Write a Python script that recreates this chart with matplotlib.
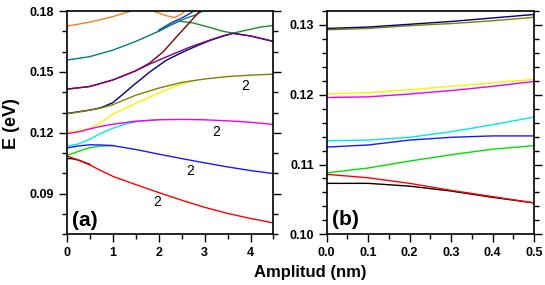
import matplotlib
matplotlib.use("Agg")
import matplotlib.pyplot as plt
from matplotlib.ticker import MultipleLocator, FormatStrFormatter

plt.rcParams['font.family'] = ['Liberation Sans', 'DejaVu Sans']

# ---------------- Panel (a) data: amplitude (nm) vs energy (eV) ----------------
xa_red = [0, 0.25, 0.5, 0.75, 1.0, 1.5, 2.0, 2.5, 3.0, 3.5, 4.0, 4.5]
ya_red = [0.1086, 0.1066, 0.1042, 0.1013, 0.0986, 0.0945, 0.0906, 0.0868, 0.0833, 0.0803, 0.0778, 0.0756]
xa_black = [0, 0.1, 0.2, 0.3, 0.4, 0.5]
ya_black = [0.1073, 0.1073, 0.1069, 0.1062, 0.1053, 0.1045]

xa_blue = [0, 0.25, 0.5, 0.75, 1.0, 1.5, 2.0, 2.5, 3.0, 3.5, 4.0, 4.5]
ya_blue = [0.1125, 0.1135, 0.1141, 0.1140, 0.1137, 0.1118, 0.1095, 0.1073, 0.1052, 0.1032, 0.1014, 0.0999]
xa_green = [0, 0.25, 0.5, 0.75, 1.0]
ya_green = [0.1088, 0.1108, 0.1127, 0.1135, 0.1137]

xa_cyan = [0, 0.25, 0.5, 0.75, 1.0, 1.3, 1.6, 2.0]
ya_cyan = [0.1134, 0.1145, 0.1168, 0.1198, 0.1222, 0.1245, 0.1258, 0.1265]
xa_magenta = [0, 0.25, 0.5, 0.75, 1.0, 1.5, 2.0, 2.5, 3.0, 3.5, 4.0, 4.5]
ya_magenta = [0.1196, 0.1204, 0.1219, 0.1232, 0.1242, 0.1257, 0.1264, 0.1266, 0.1264, 0.1259, 0.1252, 0.1241]

xa_yellow = [0, 0.25, 0.5, 0.75, 1.0, 1.25, 1.5, 1.8, 2.1, 2.4, 2.7]
ya_yellow = [0.1201, 0.1209, 0.1222, 0.1250, 0.1292, 0.1318, 0.1345, 0.1375, 0.1405, 0.1432, 0.1455]
xa_olive = [0, 0.5, 0.75, 1.0, 1.5, 2.0, 2.5, 3.0, 3.5, 4.0, 4.5]
ya_olive = [0.1293, 0.1311, 0.1322, 0.1338, 0.1385, 0.1420, 0.1448, 0.1465, 0.1477, 0.1484, 0.1489]

xa_navy = [0, 0.5, 0.75, 1.0, 1.25, 1.45, 1.81, 2.17, 2.54, 2.9, 3.12, 3.4, 3.62, 4.0, 4.5]
ya_navy = [0.1295, 0.1312, 0.1324, 0.1348, 0.1395, 0.1434, 0.1500, 0.1558, 0.1599, 0.1635, 0.1655, 0.1676, 0.1690, 0.1677, 0.1650]
xa_purple = [0, 0.5, 1.0, 1.3, 1.52, 1.8, 2.17, 2.68, 3.12, 3.4, 3.62, 4.0, 4.5]
ya_purple = [0.1415, 0.1428, 0.1460, 0.1487, 0.1508, 0.1538, 0.1574, 0.1622, 0.1657, 0.1678, 0.1690, 0.1677, 0.1650]
xa_maroon = [0, 0.5, 1.0, 1.5, 1.8, 2.1, 2.3, 2.5, 2.7, 2.9, 3.0]
ya_maroon = [0.1415, 0.1428, 0.1460, 0.1505, 0.1543, 0.1599, 0.1650, 0.1700, 0.1750, 0.1800, 0.1825]

xa_teal = [0, 0.5, 1.0, 1.5, 2.0, 2.3, 2.6, 2.8, 3.0]
ya_teal = [0.1558, 0.1575, 0.1607, 0.1650, 0.1700, 0.1735, 0.1765, 0.1780, 0.1805]
xa_dgreen = [2.0, 2.2, 2.45, 2.75, 3.1, 3.4, 3.62, 3.9, 4.2, 4.5]
ya_dgreen = [0.1700, 0.1725, 0.1750, 0.1741, 0.1720, 0.1700, 0.1691, 0.1705, 0.1720, 0.1729]
xa_ublue = [2.0, 2.3, 2.5, 2.7, 2.85]
ya_ublue = [0.1705, 0.1745, 0.1765, 0.1790, 0.1815]

xa_orange1 = [0, 0.5, 1.0, 1.4, 1.6]
ya_orange1 = [0.1725, 0.1745, 0.1772, 0.1800, 0.1815]
xa_orange2 = [1.75, 2.0, 2.2, 2.35, 2.5, 2.6]
ya_orange2 = [0.1810, 0.1790, 0.1775, 0.1768, 0.1785, 0.1810]

# ---------------- Panel (b) data ----------------
xb = [0.0, 0.1, 0.2, 0.3, 0.4, 0.5]
yb_black = [0.1073, 0.1073, 0.1069, 0.1062, 0.1053, 0.1045]
yb_red = [0.1086, 0.1081, 0.1073, 0.1063, 0.1054, 0.1045]
yb_green = [0.1088, 0.1095, 0.1105, 0.1114, 0.1122, 0.1127]
yb_blue = [0.1125, 0.1128, 0.1135, 0.1139, 0.1141, 0.1141]
yb_cyan = [0.1134, 0.1135, 0.1139, 0.1147, 0.1157, 0.1168]
yb_magenta = [0.1196, 0.1197, 0.1201, 0.1206, 0.1212, 0.1219]
yb_yellow = [0.1201, 0.1203, 0.1207, 0.1212, 0.1217, 0.1222]
yb_olive = [0.1293, 0.1295, 0.1299, 0.1302, 0.1306, 0.1311]
yb_navy = [0.1295, 0.1297, 0.1301, 0.1305, 0.1310, 0.1315]

labels_2 = [(1.96, 0.0857), (2.68, 0.1011), (3.25, 0.1203), (3.88, 0.1429)]

C = dict(red='#ff0000', black='#000000', blue='#1a1aff', green='#00e000',
         cyan='#00e8e8', magenta='#ee00ee', yellow='#f5f500', olive='#808000',
         navy='#000080', purple='#800080', maroon='#800000', teal='#008080',
         dgreen='#1f8a2a', ublue='#1c2fc0', orange='#f08020')

fig = plt.figure(figsize=(5.45, 2.85), dpi=100)
axa = fig.add_axes([66.7/545, (285-234.3)/285, 206.8/545, 223.3/285])
axb = fig.add_axes([326.7/545, (285-234.3)/285, 207.3/545, 223.3/285])

lw = 1.0
# panel (a)
axa.plot(xa_orange1, ya_orange1, color=C['orange'], lw=lw)
axa.plot(xa_orange2, ya_orange2, color=C['orange'], lw=lw)
axa.plot(xa_ublue, ya_ublue, color=C['ublue'], lw=lw)
axa.plot(xa_dgreen, ya_dgreen, color=C['dgreen'], lw=lw)
axa.plot(xa_teal, ya_teal, color=C['teal'], lw=lw)
axa.plot(xa_maroon, ya_maroon, color=C['maroon'], lw=lw)
axa.plot(xa_navy, ya_navy, color=C['navy'], lw=lw)
axa.plot(xa_purple, ya_purple, color=C['purple'], lw=lw)
axa.plot(xa_yellow, ya_yellow, color=C['yellow'], lw=lw)
axa.plot(xa_olive, ya_olive, color=C['olive'], lw=lw)
axa.plot(xa_cyan, ya_cyan, color=C['cyan'], lw=lw)
axa.plot(xa_magenta, ya_magenta, color=C['magenta'], lw=lw)
axa.plot(xa_green, ya_green, color=C['green'], lw=lw)
axa.plot(xa_blue, ya_blue, color=C['blue'], lw=lw)
axa.plot(xa_black, ya_black, color=C['black'], lw=lw)
axa.plot(xa_red, ya_red, color=C['red'], lw=lw)
for (x, y) in labels_2:
    axa.text(x, y, '2', fontsize=10, ha='center', va='center')
axa.text(0.086, 0.064, '(a)', transform=axa.transAxes, fontsize=15,
         fontweight='bold', ha='center', va='center')

# panel (b)
axb.plot(xb, yb_olive, color=C['olive'], lw=lw)
axb.plot(xb, yb_navy, color=C['navy'], lw=lw)
axb.plot(xb, yb_yellow, color=C['yellow'], lw=lw)
axb.plot(xb, yb_magenta, color=C['magenta'], lw=lw)
axb.plot(xb, yb_cyan, color=C['cyan'], lw=lw)
axb.plot(xb, yb_blue, color=C['blue'], lw=lw)
axb.plot(xb, yb_green, color=C['green'], lw=lw)
axb.plot(xb, yb_black, color=C['black'], lw=lw)
axb.plot(xb, yb_red, color=C['red'], lw=lw)
axb.text(0.088, 0.0685, '(b)', transform=axb.transAxes, fontsize=15,
         fontweight='bold', ha='center', va='center')

axa.set_xlim(0, 4.5)
axa.set_ylim(0.07, 0.18)
axa.xaxis.set_major_locator(MultipleLocator(1))
axa.xaxis.set_minor_locator(MultipleLocator(0.5))
axa.yaxis.set_major_locator(MultipleLocator(0.03))
axa.yaxis.set_minor_locator(MultipleLocator(0.01))
axa.xaxis.set_major_formatter(FormatStrFormatter('%d'))
axa.yaxis.set_major_formatter(FormatStrFormatter('%.2f'))

axb.set_xlim(0, 0.5)
axb.set_ylim(0.10, 0.132)
axb.xaxis.set_major_locator(MultipleLocator(0.1))
axb.xaxis.set_minor_locator(MultipleLocator(0.05))
axb.yaxis.set_major_locator(MultipleLocator(0.01))
axb.yaxis.set_minor_locator(MultipleLocator(0.002))
axb.xaxis.set_major_formatter(FormatStrFormatter('%.1f'))
axb.yaxis.set_major_formatter(FormatStrFormatter('%.2f'))

for ax in (axa, axb):
    for s in ax.spines.values():
        s.set_linewidth(1.2)
    ax.tick_params(which='both', direction='out', left=True, right=True,
                   top=False, bottom=True, width=1.0)
    ax.tick_params(which='major', length=6, pad=3, labelsize=9)
    ax.tick_params(which='minor', length=3.5)
    for lab in ax.get_xticklabels() + ax.get_yticklabels():
        lab.set_fontweight('bold')

fig.text(12/545, 1-124/285, 'E (eV)', rotation=90, fontsize=13,
         fontweight='bold', ha='center', va='center')
fig.text(310/545, 1-272.7/285, 'Amplitud (nm)', fontsize=12,
         fontweight='bold', ha='center', va='center')

fig.savefig('out.png', dpi=100)
